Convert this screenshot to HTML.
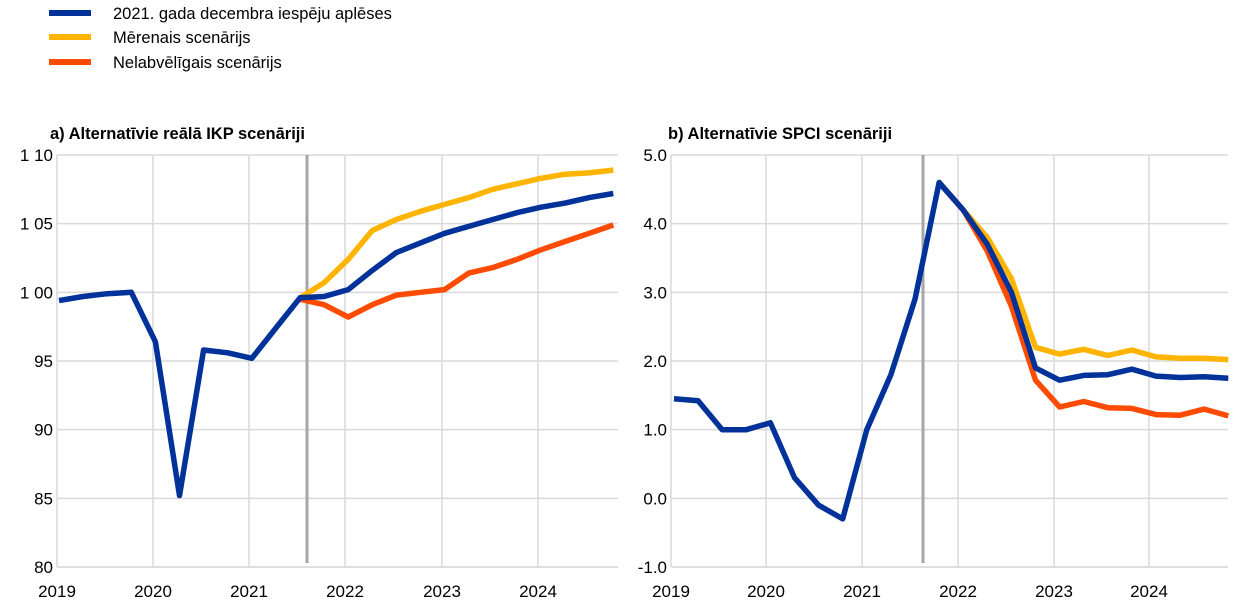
<!DOCTYPE html>
<html><head><meta charset="utf-8"><style>
body{margin:0;background:#fff;width:1240px;height:610px;overflow:hidden}
svg{font-family:"Liberation Sans",Arial,sans-serif}
</style></head><body>
<svg id="s" width="1240" height="610" xmlns="http://www.w3.org/2000/svg">
<g stroke-width="6">
<line x1="49" y1="13" x2="91" y2="13" stroke="#003299"/>
<line x1="49" y1="37" x2="91" y2="37" stroke="#FFB400"/>
<line x1="49" y1="62" x2="91" y2="62" stroke="#FF4B00"/>
</g>
<g font-size="16.5" fill="#000">
<text x="113" y="19">2021. gada decembra iespēju aplēses</text>
<text x="113" y="43">Mērenais scenārijs</text>
<text x="113" y="68">Nelabvēlīgais scenārijs</text>
<text x="50" y="139" font-weight="bold">a) Alternatīvie reālā IKP scenāriji</text>
<text x="668" y="139" font-weight="bold">b) Alternatīvie SPCI scenāriji</text>
</g>
<g id="g"></g>
</svg>
<script>
var g=document.getElementById('g'),h='';
function L(x1,y1,x2,y2,c,w){h+='<line x1="'+x1+'" y1="'+y1+'" x2="'+x2+'" y2="'+y2+'" stroke="'+c+'" stroke-width="'+w+'"/>';}
function T(x,y,t,a){h+='<text x="'+x+'" y="'+y+'" font-size="17" text-anchor="'+a+'">'+t+'</text>';}
function chart(x0,x1,ticksX,yv,ylab,y0v,y1v,vx,first,series){
 var ty=function(v){return 155+(y0v-v)/(y0v-y1v)*412;};
 yv.forEach(function(v,i){var y=ty(v);L(x0,y,x1,y,'#d9d9d9',1.5);T(x0-4,y+6,ylab[i],'end');});
 ticksX.forEach(function(x,i){L(x,155,x,567,'#d9d9d9',1.5);T(x,597,2019+i,'middle');});
 L(x0,567,x1,567,'#d9d9d9',1.5);
 L(vx,155,vx,563,'#a6a6a6',3);
 series.forEach(function(s,k){
  var pts=s.d.map(function(v,i){return (first+(s.o+i)*24.1).toFixed(1)+','+ty(v).toFixed(1);}).join(' ');
  h+='<polyline points="'+pts+'" fill="none" stroke="'+s.c+'" stroke-width="5.5" stroke-linejoin="round"/>';
 });
}
chart(57,618,[57,153,249,345,442,538],[110,105,100,95,90,85,80],['1 10','1 05','1 00','95','90','85','80'],110,80,307,59,[
 {c:'#FFB400',o:10,d:[99.6,100.7,102.4,104.5,105.3,105.9,106.4,106.9,107.5,107.9,108.3,108.6,108.7,108.9]},
 {c:'#FF4B00',o:10,d:[99.5,99.1,98.2,99.1,99.8,100.0,100.2,101.4,101.8,102.4,103.1,103.7,104.3,104.9]},
 {c:'#003299',o:0,d:[99.4,99.7,99.9,100.0,96.4,85.2,95.8,95.6,95.2,97.4,99.6,99.7,100.2,101.6,102.9,103.6,104.3,104.8,105.3,105.8,106.2,106.5,106.9,107.2]}
]);
chart(671,1228,[671,766,862,958,1054,1149],[5,4,3,2,1,0,-1],['5.0','4.0','3.0','2.0','1.0','0.0','-1.0'],5,-1,923,674,[
 {c:'#FFB400',o:11,d:[4.6,4.2,3.8,3.2,2.2,2.1,2.17,2.08,2.16,2.06,2.04,2.04,2.02]},
 {c:'#FF4B00',o:11,d:[4.6,4.2,3.6,2.8,1.72,1.33,1.41,1.32,1.31,1.22,1.21,1.3,1.2]},
 {c:'#003299',o:0,d:[1.45,1.42,1.0,1.0,1.1,0.3,-0.1,-0.3,1.0,1.8,2.9,4.6,4.2,3.7,3.0,1.9,1.72,1.79,1.8,1.88,1.78,1.76,1.77,1.75]}
]);
g.innerHTML=h;
</script>
</body></html>
